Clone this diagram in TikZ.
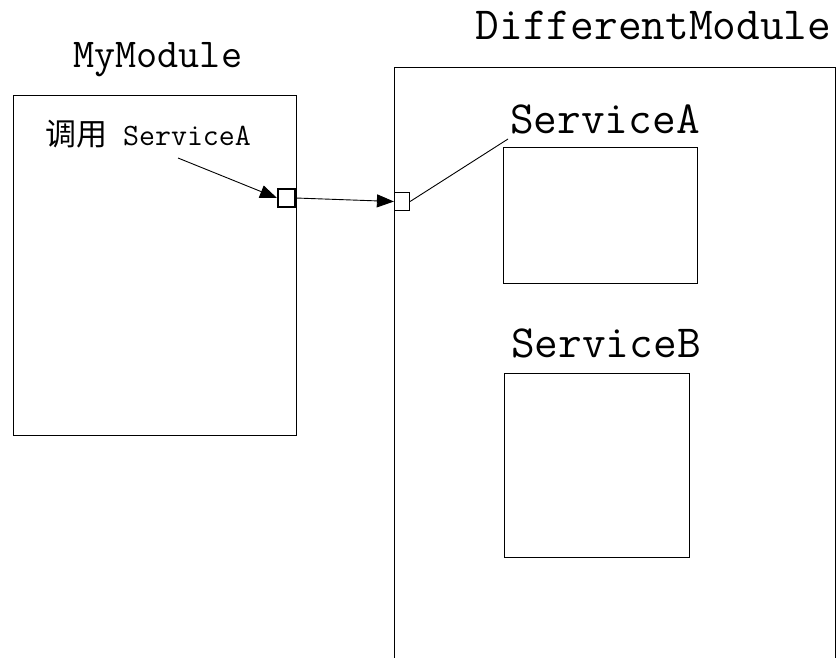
\documentclass[tikz,border=0pt]{standalone}
\usepackage{fontspec}
\newfontfamily\cjkfont{Noto Sans CJK SC}
\usetikzlibrary{arrows.meta}
\begin{document}
\begin{tikzpicture}[x=1pt,y=-1pt,
  frame/.style={draw=black, line width=1pt, inner sep=0pt, anchor=north west},
  port/.style={draw=black, fill=white, inner sep=0pt, minimum height=18pt},
  title/.style={inner sep=0pt, anchor=base west, font=\ttfamily\fontsize{46}{50}\selectfont},
  conn/.style={draw=black, line width=0.9pt},
  arr/.style={conn, -{Triangle[length=17pt,width=13pt]}}]
\useasboundingbox (0,0) rectangle (840,657);
\clip (0,0) rectangle (840,657);

% module frames
\node[frame, minimum width=283pt, minimum height=340pt] (mymod) at (12.5,95) {};
\node[frame, minimum width=441pt, minimum height=650pt] (diffmod) at (394,67) {};
\node[frame, minimum width=194pt, minimum height=136pt] (svcA) at (503,147) {};
\node[frame, minimum width=185pt, minimum height=184pt] (svcB) at (504,373) {};

% titles
\node[title, font=\ttfamily\fontsize{41}{45}\selectfont] (mymodT) at (73,67) {MyModule};
\node[title] (diffmodT) at (475.7,39) {DifferentModule};
\node[title] (svcAT) at (510,133) {ServiceA};
\node[title] (svcBT) at (511,357) {ServiceB};
\node[title, font=\ttfamily\fontsize{31}{35}\selectfont] (callT) at (45,145)
  {{\cjkfont 调用}\ ServiceA};

% ports
\node[port, line width=2pt, minimum width=17pt] (p1) at (286.5,198) {};
\node[port, line width=1.2pt, minimum width=15pt] (p2) at (402,201.5) {};

% connectors
\coordinate (callEnd) at (178,158);
\coordinate (svcAEnd) at (508,139);
\draw[arr] (callEnd) -- (p1.west);
\draw[arr] (p1.east) -- (p2.west);
\draw[conn] (p2.east) -- (svcAEnd);
\end{tikzpicture}
\end{document}
